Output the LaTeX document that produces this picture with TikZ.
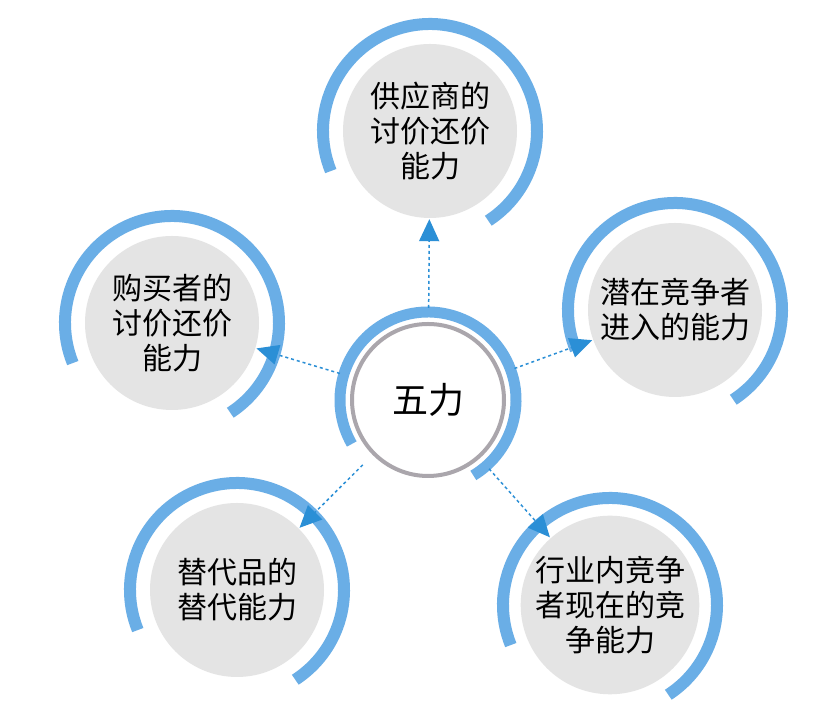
\documentclass[tikz,border=0pt]{standalone}
\usepackage{fontspec}
\setmainfont{Noto Sans CJK SC}
\usetikzlibrary{arrows.meta,calc}
\definecolor{arcblue}{HTML}{6AAEE6}
\definecolor{arrowblue}{HTML}{2B8FD6}
\definecolor{fillgray}{HTML}{E4E4E4}
\definecolor{ringgray}{HTML}{AAA6AC}
\begin{document}
\begin{tikzpicture}[x=1pt,y=1pt,
  outer/.style={circle,fill=fillgray,minimum size=174pt,inner sep=0pt,align=center,font=\fontsize{30}{35}\selectfont},
  centre/.style={circle,draw=ringgray,line width=4pt,fill=white,minimum size=152pt,inner sep=0pt,font=\fontsize{36}{40}\selectfont},
  blueArc/.style={draw=arcblue,line width=12pt},
  conn/.style={draw=arrowblue,line width=1.5pt,dash pattern=on 3pt off 3pt,-{Triangle[length=22pt,width=20pt]}}]
\useasboundingbox (0,0) rectangle (836,708);
\fill[white] (0,0) rectangle (836,708);
\node[outer] (sup) at (430,577) {供应商的\\讨价还价\\能力};
\node[outer] (buy) at (172,385) {购买者的\\讨价还价\\能力};
\node[outer] (ent) at (675,398) {潜在竞争者\\进入的能力};
\node[outer] (sub) at (237,118) {替代品的\\替代能力};
\node[outer] (riv) at (610,103) {行业内竞争\\者现在的竞\\争能力};
\foreach \n in {sup,buy,ent,sub,riv}
  \draw[blueArc] ($(\n)+(202:107)$) arc[start angle=202,end angle=-57,radius=107];
\draw[draw=arcblue,line width=11pt] ($(428,308)+(210:88)$) arc[start angle=210,end angle=-59,radius=88];
\node[centre] (cen) at (428,308) {五力};
\foreach \n in {sup,buy,ent,sub,riv}
  \draw[conn,shorten <=14pt,shorten >=1pt] (cen) -- (\n);
\end{tikzpicture}
\end{document}
